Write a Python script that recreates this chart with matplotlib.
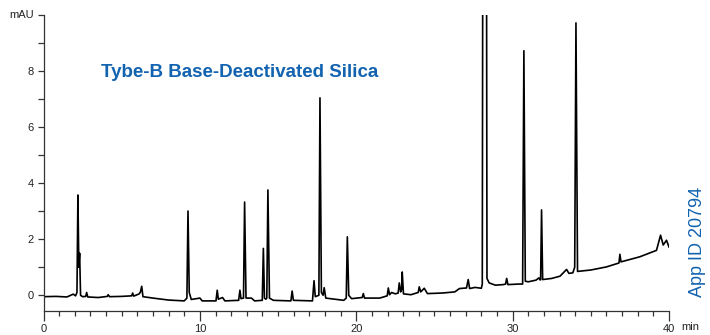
"""
Chromatogram: Tybe-B base-deactivated silica column.
"""

import matplotlib
matplotlib.use("Agg")
import matplotlib.pyplot as plt
from matplotlib.ticker import MultipleLocator

plt.rcParams['font.family'] = ['Liberation Sans', 'DejaVu Sans']

# retention time (min) and detector signal (mAU)
time_min = [
    0.0, 0.8, 1.5, 1.9, 2.05, 2.14, 2.2, 2.26, 2.31, 2.37, 2.5, 2.7, 2.76,
    2.83, 3.5, 4.08, 4.14, 4.22, 5.0, 5.64, 5.7, 5.77, 6.12, 6.2, 6.28,
    6.36, 7.0, 8.0, 9.0, 9.17, 9.24, 9.32, 9.45, 10.0, 10.15, 11.03, 11.11,
    11.18, 11.45, 11.6, 12.48, 12.56, 12.63, 12.79, 12.86, 12.95, 13.3,
    13.5, 13.99, 14.06, 14.13, 14.22, 14.28, 14.35, 14.45, 14.7, 15.82,
    15.9, 15.98, 17.2, 17.3, 17.38, 17.61, 17.68, 17.77, 17.88, 17.95,
    18.05, 19.2, 19.36, 19.43, 19.52, 19.7, 20.38, 20.45, 20.53, 21.5,
    21.98, 22.05, 22.13, 22.26, 22.5, 22.68, 22.75, 22.84, 22.9, 22.94,
    23.02, 23.5, 23.96, 24.03, 24.12, 24.35, 24.55, 25.5, 26.3, 26.6, 27.05,
    27.16, 27.25, 27.6, 28.0, 28.06, 28.21, 28.36, 28.5, 28.9, 29.4, 29.55,
    29.62, 29.7, 30.4, 30.64, 30.72, 30.81, 31.0, 31.5, 31.68, 31.75, 31.79,
    31.85, 31.92, 32.5, 33.03, 33.45, 33.6, 33.85, 33.97, 34.05, 34.15,
    35.0, 36.0, 36.5, 36.8, 36.86, 36.93, 38.13, 38.78, 39.2, 39.46, 39.63,
    39.84, 40.0,
]
signal_mau = [
    -0.05, -0.04, -0.06, 0.04, -0.02, 0.1, 3.57, 1.0, 1.5, 0.0, -0.05, -0.04,
    0.10, -0.06, -0.08, -0.04, 0.02, -0.05, -0.04, -0.02, 0.08, -0.03, 0.05,
    0.12, 0.32, -0.05, -0.1, -0.17, -0.2, -0.1, 3.0, 0.1, -0.15, -0.1, -0.2,
    -0.2, 0.18, -0.14, -0.08, -0.2, -0.18, 0.18, -0.12, -0.1, 3.32, -0.1,
    -0.1, -0.2, -0.18, 1.67, -0.1, -0.14, -0.1, 3.75, -0.1, -0.18, -0.2,
    0.15, -0.18, -0.2, 0.52, -0.05, 0.0, 7.03, 0.1, 0.0, 0.27, -0.1, -0.18,
    -0.1, 2.08, 0.0, -0.12, -0.08, 0.06, -0.1, -0.1, -0.02, 0.26, 0.02, 0.1,
    0.05, 0.08, 0.44, 0.12, 0.2, 0.83, 0.05, 0.02, 0.1, 0.3, 0.12, 0.25,
    0.06, 0.08, 0.12, 0.24, 0.26, 0.56, 0.24, 0.28, 0.25, 0.4, 60.0, 0.6,
    0.44, 0.36, 0.38, 0.4, 0.6, 0.38, 0.4, 0.4, 8.71, 0.5, 0.48, 0.54, 0.62,
    0.55, 0.55, 3.04, 0.56, 0.6, 0.68, 0.92, 0.78, 0.8, 1.0, 9.7, 0.85, 0.9,
    1.01, 1.1, 1.15, 1.46, 1.19, 1.37, 1.51, 1.6, 2.14, 1.79, 1.96, 1.72,
]

y_ticks = [0, 2, 4, 6, 8, 10]
y_tick_labels = ['0', '2', '4', '6', '8', 'mAU']
x_ticks = [0, 10, 20, 30, 40]
x_tick_labels = ['0', '10', '20', '30', '40']

title = 'Tybe-B Base-Deactivated Silica'
app_id = 'App ID 20794'
blue = '#1263b0'
axis_gray = '#333333'

fig = plt.figure(figsize=(7.1, 3.35), dpi=100)
ax = fig.add_axes([43.5 / 710, 24 / 335, (669 - 43.5) / 710, (311 - 14.5) / 335])

ax.plot(time_min, signal_mau, color='black', linewidth=1.2, solid_joinstyle='round')

ax.set_xlim(0, 40)
ax.set_ylim(-0.56, 10)

for side in ['top', 'right']:
    ax.spines[side].set_visible(False)
for side in ['left', 'bottom']:
    ax.spines[side].set_color(axis_gray)
    ax.spines[side].set_linewidth(0.9)

ax.set_yticks(y_ticks)
ax.set_yticklabels(y_tick_labels)
ax.yaxis.set_minor_locator(MultipleLocator(1))
ax.set_xticks(x_ticks)
ax.set_xticklabels(x_tick_labels)
ax.xaxis.set_minor_locator(MultipleLocator(1))

ax.tick_params(axis='y', which='both', direction='out', length=4, width=0.9,
               color=axis_gray, labelsize=8, labelcolor='#222222', pad=3)
ax.tick_params(axis='x', which='major', direction='out', length=7, width=0.9,
               color=axis_gray, labelsize=8, labelcolor='#222222', pad=2.5)
ax.tick_params(axis='x', which='minor', direction='out', length=3.5, width=0.9,
               color=axis_gray)

# unit label after the last x tick
ax.annotate('min', xy=(1, 0), xycoords='axes fraction', xytext=(8.5, -11.8),
            textcoords='offset points', ha='left', va='center',
            fontsize=8, color='#222222')

fig.text(101 / 710, (335 - 76.7) / 335, title, ha='left', va='baseline',
         fontsize=13.5, fontweight='bold', color=blue)
fig.text(698 / 710, (335 - 242) / 335, app_id, ha='center', va='center',
         rotation=90, fontsize=13, color=blue)

fig.savefig('out.png', dpi=100)
